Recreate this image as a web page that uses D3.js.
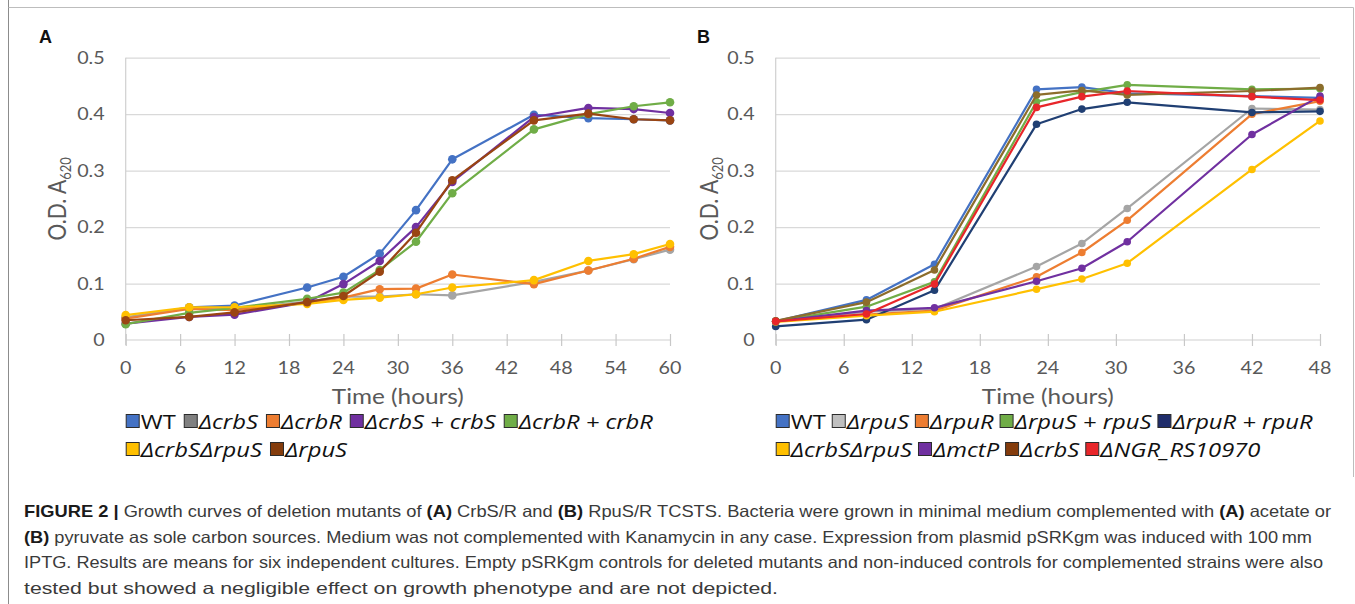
<!DOCTYPE html>
<html><head><meta charset="utf-8">
<script src="https://cdn.jsdelivr.net/npm/d3@7"></script>
<style>body{margin:0;background:#fff}svg{display:block}</style>
</head><body><svg id="c" width="1355" height="604"></svg>
<script>
// ---------- data ----------
const timesA = [0, 7, 12, 20, 24, 28, 32, 36, 45, 51, 56, 60];
const namesA = ["WT", "ΔcrbS", "ΔcrbR", "ΔcrbS + crbS", "ΔcrbR + crbR", "ΔcrbSΔrpuS", "ΔrpuS"];
const wtA       = [0.039, 0.058, 0.061, 0.093, 0.112, 0.153, 0.230, 0.320, 0.399, 0.393, 0.391, 0.389];
const crbS_A    = [0.040, 0.057, 0.055, 0.068, 0.077, 0.077, 0.081, 0.079, 0.103, 0.123, 0.143, 0.160];
const crbR_A    = [0.038, 0.055, 0.053, 0.066, 0.075, 0.090, 0.091, 0.116, 0.099, 0.123, 0.144, 0.165];
const crbScomp  = [0.029, 0.041, 0.045, 0.067, 0.099, 0.140, 0.200, 0.280, 0.395, 0.411, 0.409, 0.402];
const crbRcomp  = [0.028, 0.048, 0.057, 0.073, 0.084, 0.124, 0.174, 0.260, 0.373, 0.400, 0.414, 0.421];
const crbSrpuS_A= [0.044, 0.058, 0.058, 0.064, 0.071, 0.075, 0.081, 0.093, 0.106, 0.140, 0.152, 0.170];
const rpuS_A    = [0.035, 0.041, 0.049, 0.067, 0.078, 0.121, 0.190, 0.283, 0.389, 0.401, 0.391, 0.389];
const lineColorsA   = ["#4472C4", "#A5A5A5", "#ED7D31", "#7030A0", "#70AD47", "#FFC000", "#9A4512"];
const legendColorsA = ["#4472C4", "#808080", "#ED7D31", "#7030A0", "#70AD47", "#FFC000", "#843C0C"];

const timesB = [0, 8, 14, 23, 27, 31, 42, 48];
const namesB = ["WT", "ΔrpuS", "ΔrpuR", "ΔrpuS + rpuS", "ΔrpuR + rpuR", "ΔcrbSΔrpuS", "ΔmctP", "ΔcrbS", "ΔNGR_RS10970"];
const wtB       = [0.033, 0.071, 0.134, 0.444, 0.448, 0.437, 0.432, 0.429];
const rpuS_B    = [0.033, 0.050, 0.055, 0.130, 0.171, 0.233, 0.410, 0.408];
const rpuR_B    = [0.033, 0.045, 0.052, 0.112, 0.155, 0.212, 0.400, 0.423];
const rpuScomp  = [0.033, 0.059, 0.103, 0.422, 0.439, 0.452, 0.444, 0.445];
const rpuRcomp  = [0.024, 0.036, 0.088, 0.382, 0.409, 0.421, 0.403, 0.405];
const crbSrpuS_B= [0.032, 0.043, 0.050, 0.090, 0.108, 0.136, 0.302, 0.388];
const mctP_B    = [0.033, 0.052, 0.057, 0.104, 0.127, 0.174, 0.364, 0.432];
const crbS_B    = [0.034, 0.067, 0.124, 0.434, 0.442, 0.434, 0.441, 0.447];
const ngr_B     = [0.033, 0.046, 0.099, 0.412, 0.431, 0.441, 0.431, 0.425];
const lineColorsB   = ["#4472C4", "#A5A5A5", "#ED7D31", "#70AD47", "#203F73", "#FFC000", "#7030A0", "#8C6D2C", "#E8262A"];
const legendColorsB = ["#4472C4", "#BFBFBF", "#ED7D31", "#70AD47", "#1F2D6B", "#FFC000", "#7030A0", "#843C0C", "#E8262A"];

const yTicks = [0, 0.1, 0.2, 0.3, 0.4, 0.5];
const xTicksA = [0, 6, 12, 18, 24, 30, 36, 42, 48, 54, 60];
const xTicksB = [0, 6, 12, 18, 24, 30, 36, 42, 48];

const captionLines = [
  [["b","FIGURE 2 | "],["n","Growth curves of deletion mutants of "],["b","(A)"],["n"," CrbS/R and "],["b","(B)"],["n"," RpuS/R TCSTS. Bacteria were grown in minimal medium complemented with "],["b","(A)"],["n"," acetate or"]],
  [["b","(B)"],["n"," pyruvate as sole carbon sources. Medium was not complemented with Kanamycin in any case. Expression from plasmid pSRKgm was induced with 100\u2009mm"]],
  [["n","IPTG. Results are means for six independent cultures. Empty pSRKgm controls for deleted mutants and non-induced controls for complemented strains were also"]],
  [["n","tested but showed a negligible effect on growth phenotype and are not depicted."]]
];

// ---------- drawing ----------
const svg = d3.select("#c");
const SX = 1.16;            // horizontal stretch of the original chart image text
const FONT = "Lato, 'Open Sans', sans-serif";
const LEGFONT = "'Open Sans', 'Noto Sans', sans-serif";
const GRAY = "#595959";

// frame
svg.append("line").attr("x1", 8.5).attr("x2", 8.5).attr("y1", 0).attr("y2", 604).attr("stroke", "#8c8c8c");
svg.append("line").attr("x1", 8.5).attr("x2", 1353.5).attr("y1", 7.5).attr("y2", 7.5).attr("stroke", "#bdbdbd");
svg.append("line").attr("x1", 1353.5).attr("x2", 1353.5).attr("y1", 7.5).attr("y2", 477).attr("stroke", "#bdbdbd");

function stretchedText(g, x, y, txt, opts) {
  const t = g.append("text")
    .attr("transform", `translate(${x},${y}) scale(${SX},1)`)
    .attr("font-family", opts.family || FONT)
    .attr("font-size", opts.size)
    .attr("fill", opts.fill || GRAY)
    .attr("text-anchor", opts.anchor || "start");
  if (opts.italic) t.attr("font-style", "italic");
  if (opts.weight) t.attr("font-weight", opts.weight);
  t.text(txt);
  return t;
}

function panel(cfg) {
  const g = svg.append("g");
  const x = d3.scaleLinear().domain([0, cfg.xMax]).range([cfg.left, cfg.right]);
  const y = d3.scaleLinear().domain([0, 0.5]).range([340, 57.7]);

  // gridlines + y labels
  const ya = d3.axisLeft(y).tickValues(yTicks).tickSize(-(cfg.right - cfg.left)).tickFormat(() => "");
  const yg = g.append("g").attr("transform", `translate(${cfg.left},0)`).call(ya);
  yg.select(".domain").remove();
  yg.selectAll(".tick line").attr("stroke", "#d9d9d9").attr("stroke-width", 1.2);
  yg.selectAll(".tick").filter(d => d === 0).select("line").remove();
  yTicks.forEach(v => {
    stretchedText(g, cfg.left - 21, y(v) + 6, v === 0 ? "0" : v.toFixed(1), {size: 17, anchor: "end"});
  });

  // y axis line (vertical at x=0)
  g.append("line").attr("x1", cfg.left).attr("x2", cfg.left).attr("y1", y(0.5)).attr("y2", y(0) + 5)
    .attr("stroke", "#d0d0d0").attr("stroke-width", 1.2);

  // x axis
  const xa = d3.axisBottom(x).tickValues(cfg.xTicks).tickSize(6).tickFormat(() => "");
  const xg = g.append("g").attr("transform", `translate(0,${y(0)})`).call(xa);
  xg.select(".domain").attr("stroke", "#d0d0d0").attr("stroke-width", 1.2).attr("d", `M${cfg.left},0H${cfg.right}`);
  xg.selectAll(".tick line").attr("stroke", "#c8c8c8").attr("stroke-width", 1.2).attr("y1", -6).attr("y2", 6);
  cfg.xTicks.forEach(v => stretchedText(g, x(v), 374, String(v), {size: 17, anchor: "middle"}));

  // titles
  stretchedText(g, (cfg.left + cfg.right) / 2, 404, "Time (hours)", {size: 21, anchor: "middle"});
  const yl = g.append("text")
    .attr("transform", `translate(${cfg.yLabelX},${(y(0) + y(0.5)) / 2}) rotate(-90) scale(1,${SX})`)
    .attr("font-family", FONT).attr("font-size", 21).attr("fill", GRAY).attr("text-anchor", "middle");
  yl.append("tspan").text("O.D. A");
  yl.append("tspan").attr("font-size", 13).attr("dy", 4).text("620");

  g.append("text").attr("x", cfg.labelX).attr("y", 43).attr("font-family", "'Liberation Sans', Arial, sans-serif")
    .attr("font-weight", "bold").attr("font-size", 18).attr("fill", "#111").text(cfg.label);

  // series
  const line = d3.line().x((d, i) => x(cfg.times[i])).y(d => y(d));
  cfg.series.forEach((s, k) => {
    const sg = g.append("g");
    sg.append("path").attr("d", line(s)).attr("fill", "none").attr("stroke", cfg.lineColors[k])
      .attr("stroke-width", 2.2).attr("stroke-linejoin", "round");
    sg.selectAll("circle").data(s).join("circle")
      .attr("cx", (d, i) => x(cfg.times[i])).attr("cy", d => y(d)).attr("r", cfg.r)
      .attr("fill", cfg.lineColors[k]);
  });

  // legend
  cfg.legendRows.forEach((row, ri) => {
    let cx = cfg.left;
    const by = 429 + ri * 28;
    row.forEach(k => {
      g.append("rect").attr("x", cx + 0.5).attr("y", by - 14.5).attr("width", 13).attr("height", 13)
        .attr("fill", cfg.legendColors[k]).attr("stroke", "#2b2b2b").attr("stroke-width", 1);
      const t = stretchedText(g, cx + 15, by, cfg.names[k],
        {size: 20.5, fill: "#111", family: LEGFONT, weight: 400, italic: cfg.names[k] !== "WT"});
      const w = t.node().getComputedTextLength() * SX;
      cx += 15 + w + cfg.legendGap;
    });
  });
}

panel({label: "A", labelX: 39, yLabelX: 66, left: 125.7, right: 670, xMax: 60, xTicks: xTicksA, times: timesA,
  series: [wtA, crbS_A, crbR_A, crbScomp, crbRcomp, crbSrpuS_A, rpuS_A],
  names: namesA, lineColors: lineColorsA, legendColors: legendColorsA, r: 4.3,
  legendRows: [[0, 1, 2, 3, 4], [5, 6]], legendGap: 8});
panel({label: "B", labelX: 697, yLabelX: 718, left: 775.7, right: 1320, xMax: 48, xTicks: xTicksB, times: timesB,
  series: [wtB, rpuS_B, rpuR_B, rpuScomp, rpuRcomp, crbSrpuS_B, mctP_B, crbS_B, ngr_B],
  names: namesB, lineColors: lineColorsB, legendColors: legendColorsB, r: 3.8,
  legendRows: [[0, 1, 2, 3, 4], [5, 6, 7, 8]], legendGap: 6});

// caption
const capWidths = [1307, 1288, 1299, 754];
captionLines.forEach((parts, i) => {
  const t = svg.append("text").attr("x", 24).attr("y", 517 + i * 25.5)
    .attr("font-family", "'Liberation Sans', Arial, sans-serif").attr("font-size", 16.5).attr("fill", "#3a3a3a")
    .attr("textLength", capWidths[i]).attr("lengthAdjust", "spacingAndGlyphs");
  parts.forEach(p => {
    const ts = t.append("tspan").text(p[1]);
    if (p[0] === "b") ts.attr("font-weight", "bold").attr("fill", "#1a1a1a");
  });
});
</script></body></html>
